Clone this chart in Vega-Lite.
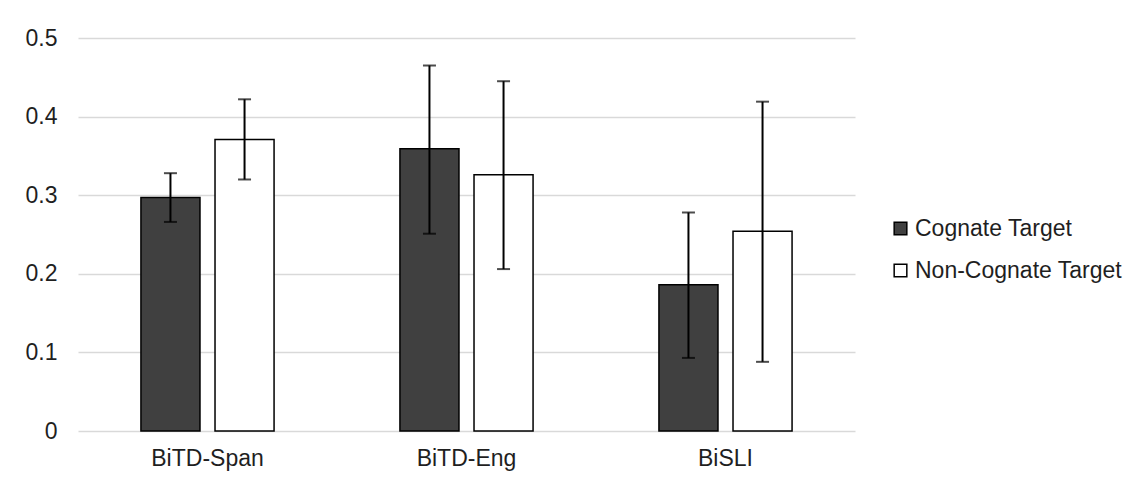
{
  "$schema": "https://vega.github.io/schema/vega-lite/v6.json",
  "autosize": "none",
  "padding": {"left": 78, "top": 38, "right": 290, "bottom": 50},
  "width": 777,
  "height": 393,
  "background": "white",
  "config": {
    "view": {"stroke": null},
    "font": "Liberation Sans",
    "axis": {"labelFont": "Liberation Sans", "labelColor": "#1f1f1f", "labelFontSize": 23},
    "legend": {"labelFont": "Liberation Sans", "labelColor": "#1f1f1f", "labelFontSize": 23}
  },
  "data": {
    "values": [
      {"group": "BiTD-Span", "type": "Cognate Target", "value": 0.297, "lo": 0.266, "hi": 0.328},
      {"group": "BiTD-Span", "type": "Non-Cognate Target", "value": 0.371, "lo": 0.320, "hi": 0.422},
      {"group": "BiTD-Eng", "type": "Cognate Target", "value": 0.359, "lo": 0.251, "hi": 0.465},
      {"group": "BiTD-Eng", "type": "Non-Cognate Target", "value": 0.326, "lo": 0.206, "hi": 0.445},
      {"group": "BiSLI", "type": "Cognate Target", "value": 0.186, "lo": 0.093, "hi": 0.278},
      {"group": "BiSLI", "type": "Non-Cognate Target", "value": 0.254, "lo": 0.088, "hi": 0.419}
    ]
  },
  "encoding": {
    "x": {
      "field": "group", "type": "nominal", "sort": ["BiTD-Span", "BiTD-Eng", "BiSLI"],
      "scale": {"paddingInner": 0.486, "paddingOuter": 0.243},
      "axis": {"title": null, "labelAngle": 0, "domain": false, "ticks": false, "labelPadding": 16}
    },
    "xOffset": {
      "field": "type", "type": "nominal", "sort": ["Cognate Target", "Non-Cognate Target"],
      "scale": {"paddingInner": 0.203, "paddingOuter": 0}
    }
  },
  "layer": [
    {
      "mark": {"type": "bar", "stroke": "black", "strokeWidth": 1.5},
      "encoding": {
        "y": {
          "field": "value", "type": "quantitative",
          "scale": {"domain": [0, 0.5], "nice": false},
          "axis": {
            "title": null, "values": [0, 0.1, 0.2, 0.3, 0.4, 0.5], "format": "~g",
            "domain": false, "ticks": false, "labelPadding": 21,
            "gridColor": "#d9d9d9", "gridWidth": 1.5
          }
        },
        "fill": {
          "field": "type", "type": "nominal",
          "scale": {"domain": ["Cognate Target", "Non-Cognate Target"], "range": ["#404040", "#ffffff"]},
          "legend": {
            "title": null, "orient": "none", "legendX": 811, "legendY": 179,
            "symbolType": "square", "symbolSize": 160, "symbolStrokeColor": "black",
            "symbolStrokeWidth": 1.5, "labelOffset": 3, "rowPadding": 18, "labelLimit": 400
          }
        }
      }
    },
    {
      "mark": {"type": "rule", "color": "black", "strokeWidth": 2},
      "encoding": {
        "y": {"field": "lo", "type": "quantitative"},
        "y2": {"field": "hi"}
      }
    },
    {
      "mark": {"type": "tick", "color": "black", "thickness": 2, "size": 13, "orient": "horizontal"},
      "encoding": {"y": {"field": "lo", "type": "quantitative"}}
    },
    {
      "mark": {"type": "tick", "color": "black", "thickness": 2, "size": 13, "orient": "horizontal"},
      "encoding": {"y": {"field": "hi", "type": "quantitative"}}
    }
  ]
}
